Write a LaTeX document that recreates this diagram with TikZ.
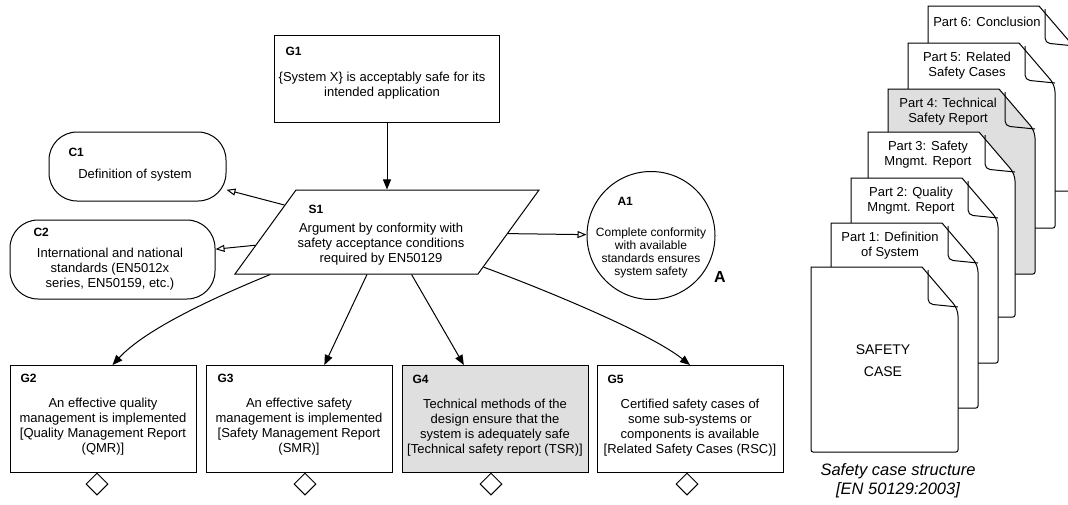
\documentclass[tikz,border=0pt]{standalone}
\usepackage{fontspec}
\setmainfont{Liberation Sans}
\usetikzlibrary{arrows.meta,shapes.geometric}

% one sheet of the safety case stack: name, left, top, fill, text position, text
\newcommand{\casepage}[6]{%
\begin{scope}[shift={(#2,#3)}]
\draw[fill=#4] (0,0) -- (111,0) [rounded corners=7pt] -- (147,42) [rounded corners=2pt] -- (147,185) -- (0,185) [sharp corners] -- cycle;
\draw[rounded corners=5pt] (117,3) -- (117,37) -- (147,40);
\draw #5 node (#1) {#6};
\end{scope}}

\begin{document}
\begin{tikzpicture}[x=1pt,y=-1pt,line width=1pt]
\tikzstyle{every node}=[inner sep=0pt, align=center, font=\fontsize{13}{15}\selectfont]
\tikzstyle{goal}=[draw, rectangle, minimum width=186pt, minimum height=107pt]
\tikzstyle{ctx}=[draw, rectangle, rounded corners=28pt]
\tikzstyle{strat}=[draw, trapezium, trapezium left angle=54, trapezium right angle=126, inner xsep=91pt, inner ysep=42pt]
\tikzstyle{assum}=[draw, circle, minimum size=128pt]
\tikzstyle{undev}=[draw, diamond, fill=white, minimum size=22pt]
\tikzstyle{gid}=[anchor=west, font=\bfseries\fontsize{12}{14}\selectfont]
\tikzstyle{sup}=[-{Triangle[length=10pt,width=8pt]}]
\tikzstyle{incx}=[-{Triangle[open,length=9pt,width=7pt]}]
\clip (0,0) rectangle (1068,504);

% GSN argument
\draw (387,78.5) node (g1) [goal, minimum width=225pt, minimum height=87pt] {};
\draw (137.5,166.5) node (c1) [ctx, minimum width=177pt, minimum height=69pt] {};
\draw (112.5,259.5) node (c2) [ctx, minimum width=205pt, minimum height=79pt] {};
\draw (387,232) node (s1) [strat] {};
\draw (651,235.5) node (a1) [assum] {};
\draw (103,419) node (g2) [goal] {};
\draw (299,419) node (g3) [goal] {};
\draw (495,419) node (g4) [goal, fill=gray!25] {};
\draw (690,419) node (g5) [goal] {};
\draw (97,484) node (g2u) [undev] {};
\draw (305,484) node (g3u) [undev] {};
\draw (491,484) node (g4u) [undev] {};
\draw (687,484) node (g5u) [undev] {};

\draw (285,51) node (g1n) [gid] {G1};
\draw (68,152) node (c1n) [gid] {C1};
\draw (33,232) node (c2n) [gid] {C2};
\draw (308,209) node (s1n) [gid] {S1};
\draw (617,201) node (a1n) [gid] {A1};
\draw (20,378) node (g2n) [gid] {G2};
\draw (217,378) node (g3n) [gid] {G3};
\draw (412,379) node (g4n) [gid] {G4};
\draw (607,379) node (g5n) [gid] {G5};

\draw (382,86) node (g1t) {\{System X\} is acceptably safe for its\\intended application};
\draw (135,175) node (c1t) {Definition of system};
\draw (110,269) node (c2t) {International and national\\standards (EN5012x\\series, EN50159, etc.)};
\draw (381,244) node (s1t) {Argument by conformity with\\safety acceptance conditions\\required by EN50129};
\draw (651,252.5) node (a1t) [font=\fontsize{12}{13}\selectfont] {Complete conformity\\with available\\standards ensures\\system safety};
\draw (720,277) node (amark) [font=\bfseries\fontsize{16}{18}\selectfont] {A};
\draw (103,427) node (g2t) {An effective quality\\management is implemented\\{[Quality Management Report}\\(QMR)]};
\draw (299,427) node (g3t) {An effective safety\\management is implemented\\{[Safety Management Report}\\(SMR)]};
\draw (495,428) node (g4t) {Technical methods of the\\design ensure that the\\system is adequately safe\\{[Technical safety report (TSR)]}};
\draw (690,428) node (g5t) {Certified safety cases of\\some sub-systems or\\components is available\\{[Related Safety Cases (RSC)]}};

\draw[sup] (g1) -- (s1);
\draw[incx] (s1) -- (c1);
\draw[incx] (s1) -- (c2);
\draw[incx] (s1) -- (a1);
\draw[sup] (s1.200) .. controls +(-56,23) and +(33,-36) .. (g2.80);
\draw[sup] (s1) -- (g3);
\draw[sup] (s1) -- (g4);
\draw[sup] (s1.-20) .. controls +(60,22) and +(-40,-32) .. (g5.north);

% safety case documents, back to front
\casepage{p6}{928}{6}{white}{(59,16)}{Part 6: Conclusion}
\casepage{p5}{908}{43}{white}{(59,22.5)}{Part 5: Related\\Safety Cases}
\casepage{p4}{888}{89}{gray!25}{(60,23)}{Part 4: Technical\\Safety Report}
\casepage{p3}{868}{132}{white}{(60,22.5)}{Part 3: Safety\\Mngmt. Report}
\casepage{p2}{851}{178}{white}{(60,23)}{Part 2: Quality\\Mngmt. Report}
\casepage{p1}{831}{223}{white}{(59,22.5)}{Part 1: Definition\\of System}
\begin{scope}[every node/.append style={font=\fontsize{14}{22}\selectfont}]
\casepage{sc}{811}{267}{white}{(72,94)}{SAFETY\\CASE}
\end{scope}
\draw (898,480.5) node (cap) [font=\itshape\fontsize{16.5}{19}\selectfont] {Safety case structure\\{[EN 50129:2003]}};
\end{tikzpicture}
\end{document}
